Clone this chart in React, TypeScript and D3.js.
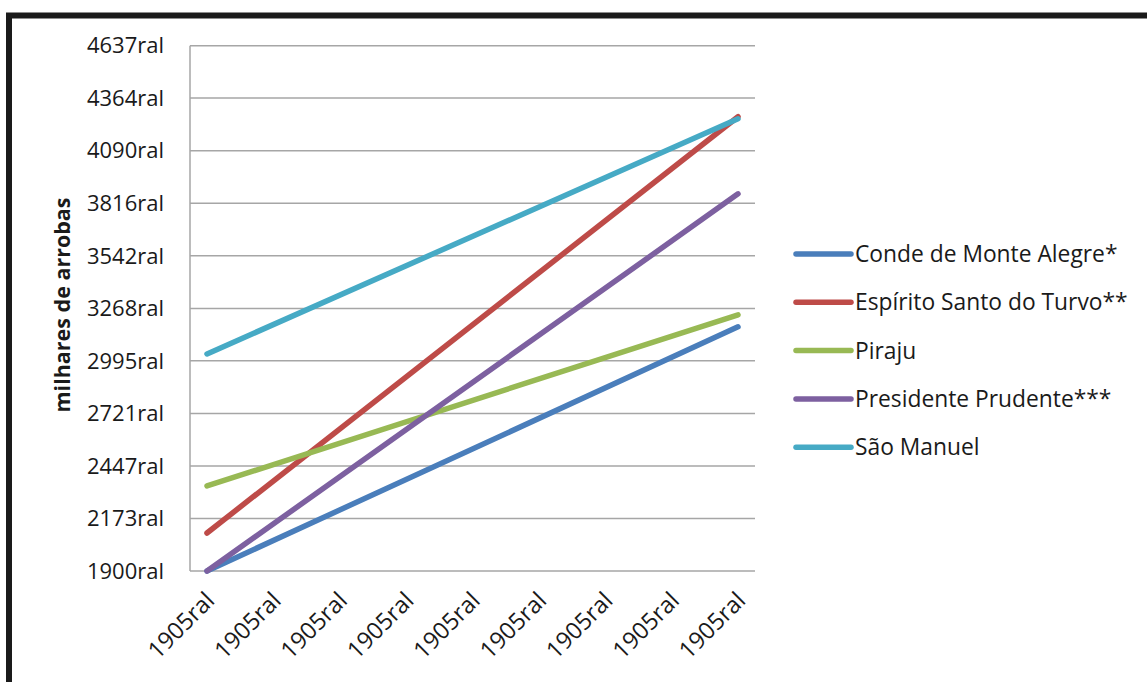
import React, { useRef, useEffect } from "react";
import * as d3 from "d3";

const categories = ["1905ral", "1905ral", "1905ral", "1905ral", "1905ral", "1905ral", "1905ral", "1905ral", "1905ral"];
const yTickValues = [1900, 2173, 2447, 2721, 2995, 3268, 3542, 3816, 4090, 4364, 4637];
const seriesNames = ["Conde de Monte Alegre*", "Espírito Santo do Turvo**", "Piraju", "Presidente Prudente***", "São Manuel"];
const seriesColors = ["#4a7ebb", "#be4b48", "#98b954", "#7d60a0", "#46aac5"];
// first and last category values (thousand arrobas)
const condeValues = [1900, 3172];
const espiritoValues = [2098, 4267];
const pirajuValues = [2343, 3235];
const prudenteValues = [1900, 3865];
const manuelValues = [3031, 4256];
const seriesValues = [condeValues, espiritoValues, pirajuValues, prudenteValues, manuelValues];

const W = 1147;
const H = 682;
const FONT = "'Open Sans', sans-serif";

function App() {
  const ref = useRef<SVGSVGElement>(null);

  useEffect(() => {
    const svg = d3.select(ref.current);
    svg.selectAll("*").remove();

    const left = 190, right = 755, top = 45.7, bottom = 571;

    const x = d3.scalePoint<number>().domain(d3.range(categories.length)).range([left, right]).padding(0.256);
    const y = d3.scaleLinear().domain([1900, 4637]).range([bottom, top]);

    // frame
    svg.append("rect")
      .attr("x", 9).attr("y", 15.5).attr("width", 1160).attr("height", 700)
      .attr("fill", "white").attr("stroke", "#1a1a1a").attr("stroke-width", 6);

    // gridlines
    svg.append("g").selectAll("line").data(yTickValues).join("line")
      .attr("x1", left).attr("x2", right)
      .attr("y1", (d) => y(d)).attr("y2", (d) => y(d))
      .attr("stroke", "#a6a6a6").attr("stroke-width", 1.5);

    svg.append("line")
      .attr("x1", left).attr("x2", left).attr("y1", top).attr("y2", bottom)
      .attr("stroke", "#a6a6a6").attr("stroke-width", 1.5);

    // y tick labels
    svg.append("g").selectAll("text").data(yTickValues).join("text")
      .attr("x", left - 26).attr("y", (d) => y(d))
      .attr("dy", "0.35em").attr("text-anchor", "end")
      .attr("font-family", FONT).attr("font-size", 22).attr("fill", "#1a1a1a")
      .text((d) => `${d}ral`);

    // x tick labels
    svg.append("g").selectAll("text").data(categories).join("text")
      .attr("transform", (_d, i) => `translate(${(x(i) as number) + 9},${602}) rotate(-45)`)
      .attr("text-anchor", "end")
      .attr("font-family", FONT).attr("font-size", 23.5).attr("fill", "#1a1a1a")
      .text((d) => d);

    // y axis title
    svg.append("text")
      .attr("transform", `translate(62,305) rotate(-90)`)
      .attr("dy", "0.35em").attr("text-anchor", "middle")
      .attr("font-family", FONT).attr("font-size", 21.5).attr("font-weight", "bold").attr("fill", "#1a1a1a")
      .text("milhares de arrobas");

    // lines
    const line = d3.line<number>()
      .x((_d, i) => x(i === 0 ? 0 : categories.length - 1) as number)
      .y((d) => y(d));

    svg.append("g").selectAll("path").data(seriesValues).join("path")
      .attr("d", (d) => line(d))
      .attr("fill", "none")
      .attr("stroke", (_d, i) => seriesColors[i])
      .attr("stroke-width", 5.5)
      .attr("stroke-linecap", "round");

    // legend
    const lg = svg.append("g").selectAll("g").data(seriesNames).join("g")
      .attr("transform", (_d, i) => `translate(796,${254 + i * 48.3})`);
    lg.append("line")
      .attr("x1", 0).attr("x2", 55).attr("y1", 0).attr("y2", 0)
      .attr("stroke", (_d, i) => seriesColors[i]).attr("stroke-width", 5.5).attr("stroke-linecap", "round");
    lg.append("text")
      .attr("x", 59).attr("dy", "0.35em")
      .attr("font-family", FONT).attr("font-size", 22.8).attr("fill", "#1a1a1a")
      .text((d) => d);
  }, []);

  return (
    <svg ref={ref} width={W} height={H} style={{ position: "absolute", left: 0, top: 0, background: "white" }} />
  );
}

export default App;
